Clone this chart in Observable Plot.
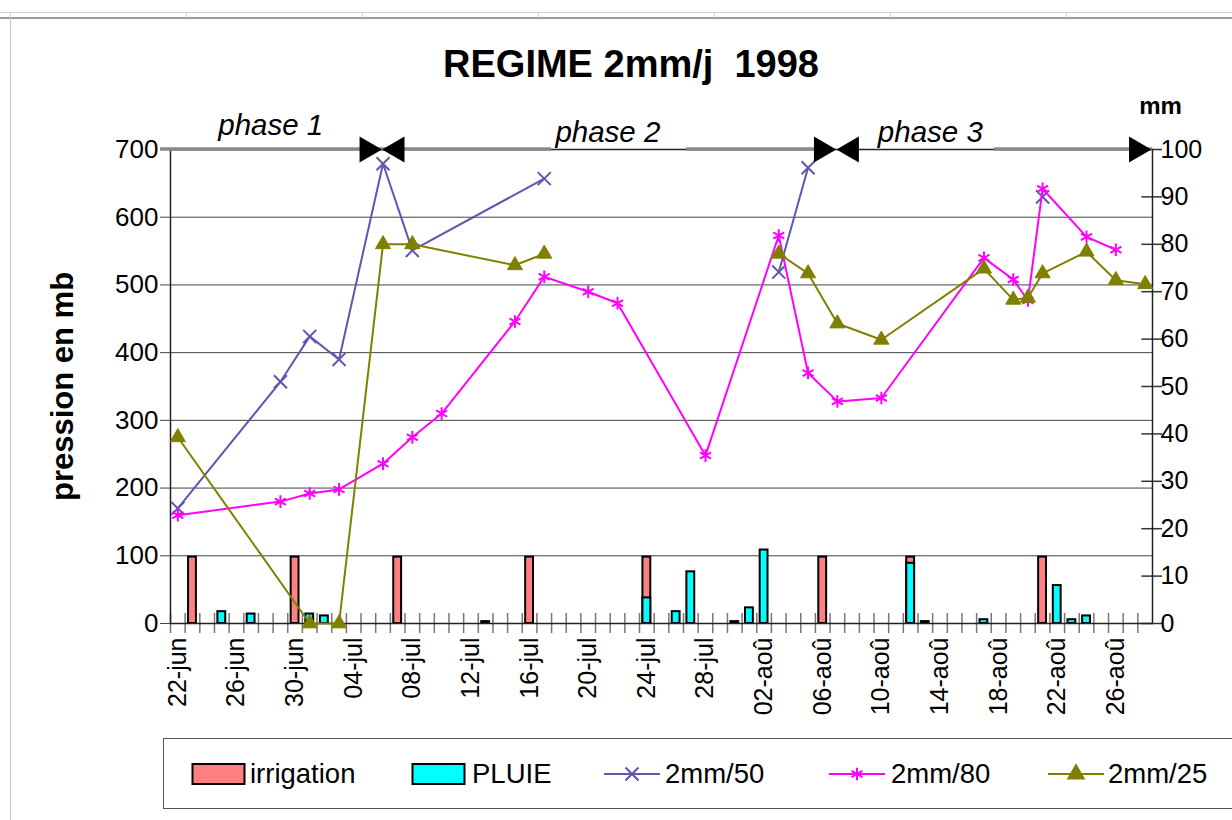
<!DOCTYPE html>
<html>
<head>
<meta charset="utf-8">
<script src="https://cdn.jsdelivr.net/npm/d3@7"></script>
<script src="https://cdn.jsdelivr.net/npm/@observablehq/plot@0.6"></script>
<style>
  body { margin: 0; background: #fff; font-family: "Liberation Sans", Arial, sans-serif; }
  #page { position: relative; width: 1232px; height: 820px; overflow: hidden; background: #fff; }
  #cells { position: absolute; left: 0; top: 12px; width: 1232px; height: 4px; border-top: 1px solid #cfcfcf; border-bottom: 2px solid #9a9a9a; }
  .vcell { position: absolute; top: 12px; height: 6px; width: 0; border-left: 1px solid #cfcfcf; }
  #sideborder { position: absolute; left: 10px; top: 18px; height: 802px; width: 0; border-left: 1px solid #c4c4c4; }
  #title { position: absolute; left: 381px; width: 500px; top: 44px; line-height: 40px; text-align: center; font-weight: bold; font-size: 38px; color: #000; white-space: pre; }
  #chart { position: absolute; left: 0; top: 95px; }
  #legend { position: absolute; left: 163px; top: 738px; width: 1120px; height: 71px; border: 1.5px solid #555; box-sizing: border-box; }
  .lgt { position: absolute; top: 17px; font-size: 27.5px; line-height: 36px; color: #000; white-space: nowrap; }
</style>
</head>
<body>
<div id="page">
  <div id="cells"></div>
  <div id="sideborder"></div>
  <div id="title">REGIME 2mm/j  1998</div>
  <div id="chart"></div>
  <div id="legend"></div>
</div>
<script>
// ---------- categories (Excel category axis, one per spreadsheet row) ----------
const dates = [
  "22-jun","23-jun","24-jun","25-jun","26-jun","27-jun","28-jun","29-jun","30-jun",
  "01-jul","02-jul","03-jul","04-jul","05-jul","06-jul","07-jul","08-jul","09-jul","10-jul",
  "11-jul","12-jul","13-jul","14-jul","15-jul","16-jul","17-jul","18-jul","19-jul","20-jul",
  "21-jul","22-jul","23-jul","24-jul","25-jul","26-jul","27-jul","28-jul","29-jul","30-jul",
  "01-aoû","02-aoû","03-aoû","04-aoû","05-aoû","06-aoû","07-aoû","08-aoû","09-aoû","10-aoû",
  "11-aoû","12-aoû","13-aoû","14-aoû","15-aoû","16-aoû","17-aoû","18-aoû","19-aoû","20-aoû",
  "21-aoû","22-aoû","23-aoû","24-aoû","25-aoû","26-aoû","27-aoû","28-aoû"
];
const labelDates = ["22-jun","26-jun","30-jun","04-jul","08-jul","12-jul","16-jul","20-jul","24-jul",
  "28-jul","02-aoû","06-aoû","10-aoû","14-aoû","18-aoû","22-aoû","26-aoû"];
const leftTicks = [0, 100, 200, 300, 400, 500, 600, 700];      // pression en mb
const rightTicks = [0, 10, 20, 30, 40, 50, 60, 70, 80, 90, 100]; // mm

// ---------- series ----------
const irrigDates = ["23-jun","30-jun","07-jul","16-jul","24-jul","06-aoû","12-aoû","21-aoû"];
const irrigMm    = [14, 14, 14, 14, 14, 14, 14, 14];

const pluieDates = ["25-jun","27-jun","01-jul","02-jul","13-jul","24-jul","26-jul","27-jul","30-jul",
  "01-aoû","02-aoû","12-aoû","13-aoû","17-aoû","22-aoû","23-aoû","24-aoû"];
const pluieMm    = [2.5, 2.0, 2.0, 1.6, 0.4, 5.4, 2.5, 10.9, 0.4, 3.3, 15.5, 12.7, 0.4, 0.8, 8.0, 0.8, 1.6];

const s50Dates  = ["22-jun","29-jun","01-jul","03-jul","06-jul","08-jul","17-jul","25-jul","03-aoû","05-aoû","13-aoû","21-aoû"];
const s50Values = [170, 357, 424, 390, 679, 551, 657, null, 519, 673, null, 630];

const s80Dates  = ["22-jun","29-jun","01-jul","03-jul","06-jul","08-jul","10-jul","15-jul","17-jul","20-jul","22-jul",
  "28-jul","03-aoû","05-aoû","07-aoû","10-aoû","17-aoû","19-aoû","20-aoû","21-aoû","24-aoû","26-aoû"];
const s80Values = [160, 180, 192, 198, 236, 275, 310, 446, 512, 490, 473, 248, 573, 370, 328, 333, 540, 508, 477, 642, 571, 552];

const s25Dates  = ["22-jun","01-jul","03-jul","06-jul","08-jul","15-jul","17-jul","25-jul","03-aoû","05-aoû","07-aoû",
  "10-aoû","17-aoû","19-aoû","20-aoû","21-aoû","24-aoû","26-aoû","28-aoû"];
const s25Values = [275, 0, 0, 560, 560, 529, 546, null, 546, 517, 443, 419, 524, 478, 481, 517, 549, 507, 501];

// ---------- phase annotations ----------
const phaseNames    = ["phase 1", "phase 2", "phase 3"];
const phaseAt       = ["28-jun", "21-jul", "13-aoû"];
const phaseBreaks   = ["06-jul", "07-aoû"];            // bow-tie markers between phases
const phaseLineFrom = ["22-jun", "06-jul", "27-jul", "18-aoû"];
const phaseLineTo   = ["05-jul", "17-jul", "06-aoû", "28-aoû"];

// ---------- colours ----------
const C_IRR = "#FF8080", C_PLUIE = "#00FFFF", C_50 = "#5F56B0", C_80 = "#FF00FF", C_25 = "#808000";

// ---------- build tables ----------
const MB_PER_MM = d3.max(leftTicks) / d3.max(rightTicks);
const TOP = d3.max(leftTicks);
const zip = (ds, vs) => ds.map((d, i) => ({date: d, v: vs[i]}));
const irrig = zip(irrigDates, irrigMm);
const pluie = zip(pluieDates, pluieMm);
const s50 = zip(s50Dates, s50Values);
const s80 = zip(s80Dates, s80Values);
const s25 = zip(s25Dates, s25Values);
const phases = phaseNames.map((n, i) => ({name: n, at: phaseAt[i]}));
const phaseSegs = phaseLineFrom.map((f, i) => ({from: f, to: phaseLineTo[i]}));

const W = 1232, H = 643, ML = 170, MR = 80, MT = 54, MB = 115;
const frameH = H - MT - MB;
const step = (W - ML - MR) / dates.length;

const phaseLine = {y: () => TOP, x1: "from", x2: "to", stroke: "#888", strokeWidth: 3.5, dy: -0.5};

const chart = Plot.plot({
  width: W, height: H,
  marginLeft: ML, marginRight: MR, marginTop: MT, marginBottom: MB,
  style: {fontFamily: "'Liberation Sans', Arial, sans-serif", background: "transparent", color: "#000", overflow: "visible"},
  x: {type: "band", domain: dates, padding: 0},
  y: {domain: [0, TOP]},
  marks: [
    Plot.ruleY(leftTicks, {stroke: "#444", strokeWidth: 1, insetLeft: -10}),
    Plot.ruleY(rightTicks, {y: d => d * MB_PER_MM, x1: () => dates[dates.length - 1], x2: () => dates[dates.length - 1], insetLeft: 4, insetRight: -10, stroke: "#333", strokeWidth: 1.5}),
    Plot.barY(irrig, {x: "date", y: d => d.v * MB_PER_MM, fill: C_IRR, stroke: "#000", strokeWidth: 2, insetLeft: 3.4, insetRight: 3.4}),
    Plot.barY(pluie, {x: "date", y: d => d.v * MB_PER_MM, fill: C_PLUIE, stroke: "#000", strokeWidth: 2, insetLeft: 3.4, insetRight: 3.4}),
    Plot.ruleX(dates, {x: d => d, dx: -step / 2, insetTop: frameH - 10, insetBottom: -10, stroke: "#777", strokeWidth: 1.5}),
    Plot.frame({stroke: "#222", strokeWidth: 1.5}),
    // pressure series
    Plot.line(s50, {x: "date", y: "v", stroke: C_50, strokeWidth: 2}),
    Plot.dot(s50, {x: "date", y: "v", symbol: "times", r: 6, stroke: C_50, strokeWidth: 2}),
    Plot.line(s80, {x: "date", y: "v", stroke: C_80, strokeWidth: 2}),
    Plot.dot(s80, {x: "date", y: "v", symbol: "asterisk", r: 6, stroke: C_80, strokeWidth: 2}),
    Plot.line(s25, {x: "date", y: "v", stroke: C_25, strokeWidth: 2}),
    Plot.dot(s25, {x: "date", y: "v", symbol: "triangle", r: 5.6, fill: C_25, stroke: C_25, strokeWidth: 1}),
    // phase lines
    Plot.ruleY(phaseSegs.slice(0, 1), {...phaseLine, insetLeft: -10}),
    Plot.ruleY(phaseSegs.slice(1), {...phaseLine, insetLeft: 3}),
    Plot.dot(phaseBreaks, {x: d => d, frameAnchor: "top", symbol: "triangle", rotate: 90, r: 9.6, fill: "#000", dx: -16}),
    Plot.dot(phaseBreaks, {x: d => d, frameAnchor: "top", symbol: "triangle", rotate: -90, r: 9.6, fill: "#000", dx: 14}),
    Plot.dot(["end"], {frameAnchor: "top-right", symbol: "triangle", rotate: 90, r: 9.6, fill: "#000", dx: -16}),
    Plot.text(phases.slice(0, 1), {x: "at", text: "name", frameAnchor: "top", textAnchor: "middle", lineAnchor: "middle", dx: 5, dy: -24, fontSize: 29.5, fontStyle: "italic", fill: "#000"}),
    Plot.text(phases.slice(1), {x: "at", text: "name", frameAnchor: "top", textAnchor: "middle", lineAnchor: "middle", dx: 5, dy: -17, fontSize: 29.5, fontStyle: "italic", fill: "#000"}),
    // axes
    Plot.axisX({ticks: labelDates, tickSize: 0, tickPadding: 14, tickRotate: -90, fontSize: 25, label: null}),
    Plot.axisY({anchor: "left", ticks: leftTicks, tickSize: 0, tickPadding: 12, fontSize: 26, label: null}),
    Plot.axisY({anchor: "right", ticks: rightTicks.map(d => d * MB_PER_MM), tickFormat: d => Math.round(d / MB_PER_MM), tickSize: 0, tickPadding: 8, fontSize: 25, label: null}),
    Plot.text(["pression en mb"], {text: d => d, frameAnchor: "left", textAnchor: "middle", lineAnchor: "middle", dx: -107, rotate: -90, fontSize: 31, fontWeight: "bold", fill: "#000"}),
    Plot.text(["mm"], {text: d => d, frameAnchor: "top-right", textAnchor: "middle", lineAnchor: "middle", dx: 8, dy: -43, fontSize: 24, fontWeight: "bold", fill: "#000"})
  ]
});
document.getElementById("chart").appendChild(chart);

// ---------- spreadsheet cell strip ----------
const page = document.getElementById("page");
[10, 186, 362, 538, 714, 890, 1066].forEach(x => {
  const v = document.createElement("div");
  v.className = "vcell"; v.style.left = x + "px";
  page.appendChild(v);
});

// ---------- legend ----------
const legend = document.getElementById("legend");
const items = [
  {label: "irrigation", kind: "bar", fill: C_IRR, sx: 27, tx: 86},
  {label: "PLUIE", kind: "bar", fill: C_PLUIE, sx: 247, tx: 308},
  {label: "2mm/50", kind: "line", color: C_50, symbol: d3.symbolTimes, sx: 440, tx: 501},
  {label: "2mm/80", kind: "line", color: C_80, symbol: d3.symbolAsterisk, sx: 665, tx: 727},
  {label: "2mm/25", kind: "line", color: C_25, symbol: d3.symbolTriangle, filled: true, sx: 884, tx: 944}
];
items.forEach(it => {
  const svg = d3.create("svg").attr("width", 60).attr("height", 71)
    .style("position", "absolute").style("left", it.sx + "px").style("top", "0px");
  if (it.kind === "bar") {
    svg.append("rect").attr("x", 1.5).attr("y", 25).attr("width", 52).attr("height", 20)
      .attr("fill", it.fill).attr("stroke", "#000").attr("stroke-width", 2);
  } else {
    svg.append("line").attr("x1", 0).attr("x2", 56).attr("y1", 35).attr("y2", 35)
      .attr("stroke", it.color).attr("stroke-width", 2);
    svg.append("path").attr("transform", "translate(28,35)")
      .attr("d", d3.symbol(it.symbol, it.filled ? 100 : 113)())
      .attr("fill", it.filled ? it.color : "none").attr("stroke", it.color).attr("stroke-width", 2);
  }
  legend.appendChild(svg.node());
  const t = document.createElement("div");
  t.className = "lgt"; t.style.left = it.tx + "px"; t.textContent = it.label;
  legend.appendChild(t);
});
</script>
</body>
</html>
